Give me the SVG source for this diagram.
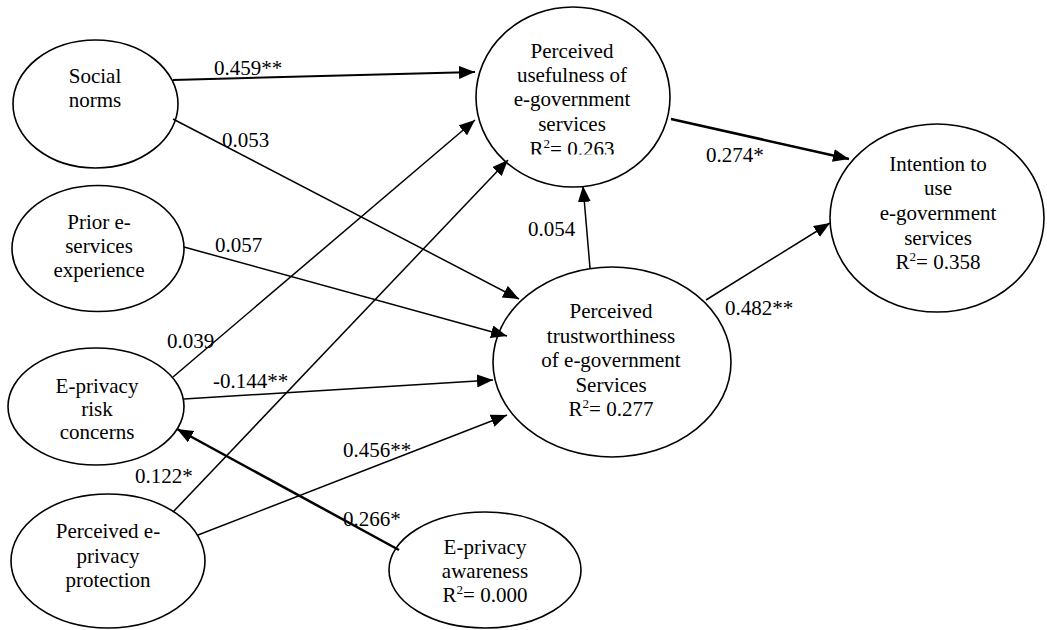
<svg xmlns="http://www.w3.org/2000/svg" width="1047" height="630" viewBox="0 0 1047 630" font-family="'Liberation Serif', 'Times New Roman', serif">
<style>
  .node ellipse { fill: #ffffff; stroke: #000000; stroke-width: 1.6; }
  text { font-family: 'Liberation Serif', 'Times New Roman', serif; font-size: 21px; fill: #000000; }
  .nt { text-anchor: middle; }
  .edge { stroke: #000000; stroke-width: 1.5; fill: none; marker-end: url(#arrow); }
  .thick { stroke-width: 2.5; }
  .mid { stroke-width: 2; }
  .sup { font-size: 13px; }
</style>
<defs>
  <marker id="arrow" markerUnits="userSpaceOnUse" markerWidth="16" markerHeight="13" refX="16" refY="6.5" orient="auto" viewBox="0 0 16 13">
    <path d="M0,0 L16,6.5 L0,13 z" fill="#000000"/>
  </marker>
  <clipPath id="clipUse">
    <rect x="470" y="0" width="210" height="154.5"/>
  </clipPath>
</defs>
<rect x="0" y="0" width="1047" height="630" fill="#ffffff"/>

<g id="social-norms" class="node">
  <ellipse cx="95.5" cy="104" rx="82.5" ry="64"/>
  <text class="nt" x="95" y="83">Social</text>
  <text class="nt" x="95" y="107">norms</text>
</g>

<g id="prior-experience" class="node">
  <ellipse cx="98" cy="248.5" rx="86" ry="63"/>
  <text class="nt" x="99" y="229">Prior e-</text>
  <text class="nt" x="99" y="253">services</text>
  <text class="nt" x="99" y="277">experience</text>
</g>

<g id="risk-concerns" class="node">
  <ellipse cx="96" cy="406.5" rx="88" ry="58.5"/>
  <text class="nt" x="97" y="393">E-privacy</text>
  <text class="nt" x="97" y="416">risk</text>
  <text class="nt" x="97" y="439">concerns</text>
</g>

<g id="privacy-protection" class="node">
  <ellipse cx="108" cy="561" rx="97" ry="67"/>
  <text class="nt" x="108" y="538">Perceived e-</text>
  <text class="nt" x="108" y="563">privacy</text>
  <text class="nt" x="108" y="587">protection</text>
</g>

<g id="privacy-awareness" class="node">
  <ellipse cx="485" cy="570" rx="96" ry="58"/>
  <text class="nt" x="485" y="554">E-privacy</text>
  <text class="nt" x="485" y="578">awareness</text>
  <text class="nt" x="485" y="602">R<tspan class="sup" dy="-8">2</tspan><tspan dy="8">= 0.000</tspan></text>
</g>

<g id="perceived-usefulness" class="node">
  <ellipse cx="573" cy="97" rx="97" ry="90"/>
  <text class="nt" x="572" y="58">Perceived</text>
  <text class="nt" x="572" y="82">usefulness of</text>
  <text class="nt" x="572" y="106">e-government</text>
  <text class="nt" x="572" y="131">services</text>
  <text class="nt" x="572" y="156" clip-path="url(#clipUse)">R<tspan class="sup" dy="-8">2</tspan><tspan dy="8">= 0.263</tspan></text>
</g>

<g id="perceived-trustworthiness" class="node">
  <ellipse cx="612" cy="362" rx="119" ry="95"/>
  <text class="nt" x="611" y="318">Perceived</text>
  <text class="nt" x="611" y="343">trustworthiness</text>
  <text class="nt" x="611" y="367">of e-government</text>
  <text class="nt" x="611" y="392">Services</text>
  <text class="nt" x="611" y="416">R<tspan class="sup" dy="-8">2</tspan><tspan dy="8">= 0.277</tspan></text>
</g>

<g id="intention-to-use" class="node">
  <ellipse cx="937" cy="218" rx="107" ry="94"/>
  <text class="nt" x="938" y="171">Intention to</text>
  <text class="nt" x="938" y="195">use</text>
  <text class="nt" x="938" y="220">e-government</text>
  <text class="nt" x="938" y="245">services</text>
  <text class="nt" x="938" y="269">R<tspan class="sup" dy="-8">2</tspan><tspan dy="8">= 0.358</tspan></text>
</g>

<g id="connectors">
  <line class="edge mid" x1="173" y1="80" x2="475" y2="72"/>
  <line class="edge" x1="173" y1="119" x2="519" y2="299"/>
  <line class="edge" x1="184" y1="247" x2="507" y2="336"/>
  <line class="edge" x1="173" y1="377" x2="475" y2="120"/>
  <line class="edge" x1="184" y1="399" x2="493" y2="380"/>
  <line class="edge" x1="173" y1="512" x2="508" y2="160"/>
  <line class="edge" x1="198" y1="535" x2="507" y2="415"/>
  <line class="edge thick" x1="399" y1="550" x2="177" y2="429"/>
  <line class="edge" x1="590" y1="268" x2="583" y2="186"/>
  <line class="edge thick" x1="671" y1="119" x2="849" y2="159"/>
  <line class="edge" x1="706" y1="300" x2="830" y2="223"/>
</g>

<g id="edge-labels">
  <text x="214" y="75">0.459**</text>
  <text x="222" y="147">0.053</text>
  <text x="215" y="252">0.057</text>
  <text x="167" y="348">0.039</text>
  <text x="213" y="388">-0.144**</text>
  <text x="135" y="483">0.122*</text>
  <text x="343" y="457">0.456**</text>
  <text x="343" y="526">0.266*</text>
  <text x="528" y="236">0.054</text>
  <text x="706" y="162">0.274*</text>
  <text x="725" y="315">0.482**</text>
</g>
</svg>
